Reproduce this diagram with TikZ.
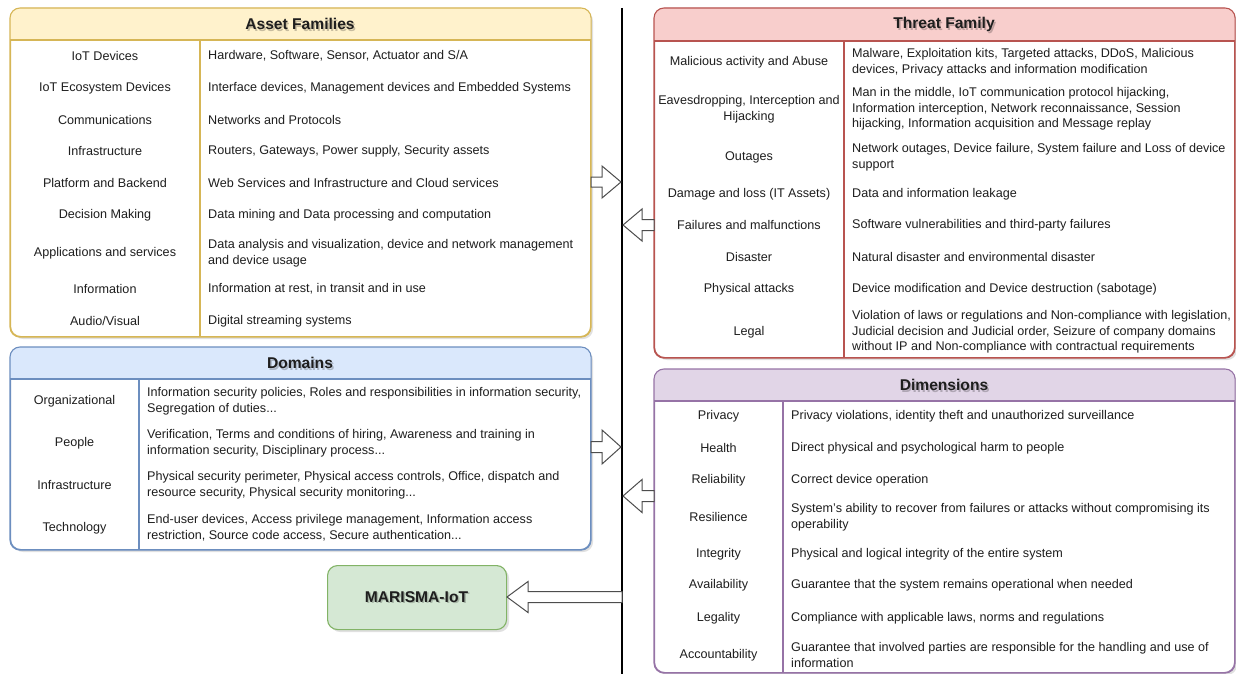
\documentclass[tikz,border=0pt]{standalone}
\usepackage{fontspec}
\setmainfont{Liberation Sans}
\usetikzlibrary{calc,shadows}
\definecolor{yfill}{HTML}{FFF2CC}\definecolor{ydraw}{HTML}{D6B656}
\definecolor{rfill}{HTML}{F8CECC}\definecolor{rdraw}{HTML}{B85450}
\definecolor{bfill}{HTML}{DAE8FC}\definecolor{bdraw}{HTML}{6C8EBF}
\definecolor{pfill}{HTML}{E1D5E7}\definecolor{pdraw}{HTML}{9673A6}
\definecolor{gfill}{HTML}{D5E8D4}\definecolor{gdraw}{HTML}{82B366}
\definecolor{txt}{HTML}{1E1E1E}
\definecolor{arrgray}{HTML}{4D4D4D}
\tikzset{
  lbl/.style={font=\fontsize{12.6}{15.6}\selectfont, text=txt, align=center, inner sep=0pt, yshift=-1pt},
  desc/.style={font=\fontsize{12.6}{15.6}\selectfont, text=txt, align=left, anchor=west, inner sep=0pt, yshift=-1pt},
  ttl/.style={font=\bfseries\fontsize{15.6}{18}\selectfont, text=txt, inner sep=0pt},
  ttlsh/.style={font=\bfseries\fontsize{15.6}{18}\selectfont, text=black, opacity=0.22, inner sep=0pt},
  frame/.style={rounded corners=10pt, line width=1.1pt, fill=white, anchor=north west, inner sep=0pt,
     drop shadow={shadow xshift=2.5pt, shadow yshift=-2.5pt, opacity=0.12, fill=black}},
  barrow/.style={draw=arrgray, fill=white, line width=1pt, line join=miter},
}
\newcommand\blockarrow[5]{%
  \draw[barrow] let \p1=(#1), \p2=(#2) in
    (\x1,{\y2+#4pt}) -- ({\x2+(#3pt)},{\y2+#4pt}) -- ({\x2+(#3pt)},{\y2+#5pt}) -- (\p2)
    -- ({\x2+(#3pt)},{\y2-#5pt}) -- ({\x2+(#3pt)},{\y2-#4pt}) -- (\x1,{\y2-#4pt}) -- cycle;}
\newcommand\tablehead[5]{% #1 node, #2 header y, #3 fill, #4 draw, #5 divider x
  \begin{scope}
    \clip[rounded corners=10pt] (#1.north west) rectangle (#1.south east);
    \fill[#3] (#1.north west) rectangle (#1.east |- 0,#2);
  \end{scope}
  \draw[#4, line width=1.1pt] (#1.west |- 0,#2) -- (#1.east |- 0,#2);
  \draw[#4, line width=1.1pt] (#5,#2) -- (#1.south -| #5,0);
  \draw[#4, line width=1.1pt, rounded corners=10pt] (#1.north west) rectangle (#1.south east);}
\begin{document}
\begin{tikzpicture}[x=1pt,y=-1pt]
\useasboundingbox (0,0) rectangle (1236,674);

% ---------- Asset Families ----------
\node[frame, draw=ydraw, minimum width=580pt, minimum height=328pt] (assets) at (10,8) {};
\tablehead{assets}{40}{yfill}{ydraw}{200}
\node[ttlsh] (assetsTs) at (301.5,25.5) {Asset Families};
\node[ttl] (assetsT) at (300,24) {Asset Families};
\node[lbl] (a1l) at (105,55) {IoT Devices};
\node[desc] (a1r) at (208,55) {Hardware, Software, Sensor, Actuator and S/A};
\node[lbl] (a2l) at (105,87) {IoT Ecosystem Devices};
\node[desc] (a2r) at (208,87) {Interface devices, Management devices and Embedded Systems};
\node[lbl] (a3l) at (105,119) {Communications};
\node[desc] (a3r) at (208,119) {Networks and Protocols};
\node[lbl] (a4l) at (105,150) {Infrastructure};
\node[desc] (a4r) at (208,150) {Routers, Gateways, Power supply, Security assets};
\node[lbl] (a5l) at (105,182) {Platform and Backend};
\node[desc] (a5r) at (208,182) {Web Services and Infrastructure and Cloud services};
\node[lbl] (a6l) at (105,214) {Decision Making};
\node[desc] (a6r) at (208,214) {Data mining and Data processing and computation};
\node[lbl] (a7l) at (105,252) {Applications and services};
\node[desc] (a7r) at (208,252) {Data analysis and visualization, device and network management\\and device usage};
\node[lbl] (a8l) at (105,288) {Information};
\node[desc] (a8r) at (208,288) {Information at rest, in transit and in use};
\node[lbl] (a9l) at (105,320) {Audio/Visual};
\node[desc] (a9r) at (208,320) {Digital streaming systems};

% ---------- Threat Family ----------
\node[frame, draw=rdraw, minimum width=580pt, minimum height=349pt] (threat) at (654,8) {};
\tablehead{threat}{41}{rfill}{rdraw}{844}
\node[ttlsh] (threatTs) at (945.5,26) {Threat Family};
\node[ttl] (threatT) at (944,24.5) {Threat Family};
\node[lbl] (t1l) at (749,61) {Malicious activity and Abuse};
\node[desc] (t1r) at (852,61) {Malware, Exploitation kits, Targeted attacks, DDoS, Malicious\\devices, Privacy attacks and information modification};
\node[lbl] (t2l) at (749,108.5) {Eavesdropping, Interception and\\Hijacking};
\node[desc] (t2r) at (852,108) {Man in the middle, IoT communication protocol hijacking,\\Information interception, Network reconnaissance, Session\\hijacking, Information acquisition and Message replay};
\node[lbl] (t3l) at (749,156) {Outages};
\node[desc] (t3r) at (852,156) {Network outages, Device failure, System failure and Loss of device\\support};
\node[lbl] (t4l) at (749,193) {Damage and loss (IT Assets)};
\node[desc] (t4r) at (852,193) {Data and information leakage};
\node[lbl] (t5l) at (749,224) {Failures and malfunctions};
\node[desc] (t5r) at (852,224) {Software vulnerabilities and third-party failures};
\node[lbl] (t6l) at (749,256) {Disaster};
\node[desc] (t6r) at (852,256) {Natural disaster and environmental disaster};
\node[lbl] (t7l) at (749,288) {Physical attacks};
\node[desc] (t7r) at (852,288) {Device modification and Device destruction (sabotage)};
\node[lbl] (t8l) at (749,331) {Legal};
\node[desc] (t8r) at (852,331) {Violation of laws or regulations and Non-compliance with legislation,\\Judicial decision and Judicial order, Seizure of company domains\\without IP and Non-compliance with contractual requirements};

% ---------- Domains ----------
\node[frame, draw=bdraw, minimum width=580pt, minimum height=202pt] (domains) at (10,347) {};
\tablehead{domains}{379}{bfill}{bdraw}{139}
\node[ttlsh] (domainsTs) at (301.5,364.5) {Domains};
\node[ttl] (domainsT) at (300,363) {Domains};
\node[lbl] (d1l) at (74.5,400) {Organizational};
\node[desc] (d1r) at (147,400) {Information security policies, Roles and responsibilities in information security,\\Segregation of duties...};
\node[lbl] (d2l) at (74.5,442) {People};
\node[desc] (d2r) at (147,442) {Verification, Terms and conditions of hiring, Awareness and training in\\information security, Disciplinary process...};
\node[lbl] (d3l) at (74.5,484) {Infrastructure};
\node[desc] (d3r) at (147,484) {Physical security perimeter, Physical access controls, Office, dispatch and\\resource security, Physical security monitoring...};
\node[lbl] (d4l) at (74.5,527) {Technology};
\node[desc] (d4r) at (147,527) {End-user devices, Access privilege management, Information access\\restriction, Source code access, Secure authentication...};

% ---------- Dimensions ----------
\node[frame, draw=pdraw, minimum width=580pt, minimum height=303pt] (dims) at (654,369) {};
\tablehead{dims}{401}{pfill}{pdraw}{783}
\node[ttlsh] (dimsTs) at (945.5,386.5) {Dimensions};
\node[ttl] (dimsT) at (944,385) {Dimensions};
\node[lbl] (m1l) at (718.5,415) {Privacy};
\node[desc] (m1r) at (791,415) {Privacy violations, identity theft and unauthorized surveillance};
\node[lbl] (m2l) at (718.5,447) {Health};
\node[desc] (m2r) at (791,447) {Direct physical and psychological harm to people};
\node[lbl] (m3l) at (718.5,479) {Reliability};
\node[desc] (m3r) at (791,479) {Correct device operation};
\node[lbl] (m4l) at (718.5,516) {Resilience};
\node[desc] (m4r) at (791,516) {System's ability to recover from failures or attacks without compromising its\\operability};
\node[lbl] (m5l) at (718.5,553) {Integrity};
\node[desc] (m5r) at (791,553) {Physical and logical integrity of the entire system};
\node[lbl] (m6l) at (718.5,584) {Availability};
\node[desc] (m6r) at (791,584) {Guarantee that the system remains operational when needed};
\node[lbl] (m7l) at (718.5,617) {Legality};
\node[desc] (m7r) at (791,617) {Compliance with applicable laws, norms and regulations};
\node[lbl] (m8l) at (718.5,654) {Accountability};
\node[desc] (m8r) at (791,654) {Guarantee that involved parties are responsible for the handling and use of\\information};

% ---------- MARISMA-IoT ----------
\node[frame, draw=gdraw, fill=gfill, minimum width=179pt, minimum height=64pt] (marisma) at (327,565) {};
\node[ttlsh] (marismaTs) at (418,598.5) {MARISMA-IoT};
\node[ttl] (marismaT) at (416.5,597) {MARISMA-IoT};

% ---------- central line ----------
\coordinate (ltop) at (622,8);
\coordinate (lbot) at (622,674);
\draw[line width=2.6pt, black] (ltop) -- (lbot);

% ---------- arrows ----------
\coordinate (p1) at (621,182);
\coordinate (p2) at (623,225);
\coordinate (p3) at (621,447);
\coordinate (p4) at (623,496);
\coordinate (p5) at (622,597);
\coordinate (p5tip) at (507,597);
\blockarrow{assets.east |- p1}{p1}{-19}{5}{16}
\blockarrow{threat.west |- p2}{p2}{19}{5.5}{16}
\blockarrow{domains.east |- p3}{p3}{-19}{5.5}{17}
\blockarrow{dims.west |- p4}{p4}{19}{5.5}{16.5}
\blockarrow{p5}{p5tip}{21}{5.5}{15.5}
\end{tikzpicture}
\end{document}
